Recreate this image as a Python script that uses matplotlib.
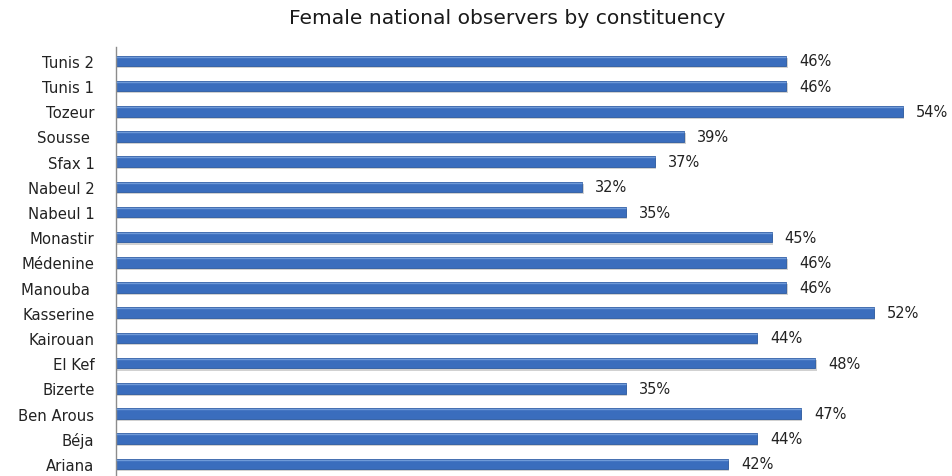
import matplotlib
matplotlib.use("Agg")
import matplotlib.pyplot as plt
import matplotlib.transforms as mtransforms

# Constituencies listed bottom to top
constituencies = ["Ariana", "Béja", "Ben Arous", "Bizerte", "El Kef", "Kairouan",
                  "Kasserine", "Manouba ", "Médenine", "Monastir", "Nabeul 1",
                  "Nabeul 2", "Sfax 1", "Sousse ", "Tozeur", "Tunis 1", "Tunis 2"]
female_share = [42, 44, 47, 35, 48, 44, 52, 46, 46, 45, 35, 32, 37, 39, 54, 46, 46]

fig = plt.figure(figsize=(9.53, 4.77), dpi=100)
ax = fig.add_axes([116 / 953, 0.0, 1 - 116 / 953, 1 - 48 / 477])

pos = list(range(len(constituencies)))
bar_h = 0.42

# soft drop shadow under each bar
shadow = mtransforms.offset_copy(ax.transData, fig=fig, x=1.0, y=-1.5, units="points")
ax.barh(pos, female_share, height=bar_h, color="#9a9a9a", alpha=0.45,
        transform=shadow, zorder=1)
ax.barh(pos, female_share, height=bar_h, color="#3a6dbd", edgecolor="#2c5aa0",
        linewidth=0.6, zorder=2)
# light highlight along the top of each bar
for p, v in zip(pos, female_share):
    ax.plot([0, v], [p + bar_h / 2 - 0.04] * 2, color="#6f9ad8", lw=1.0,
            solid_capstyle="butt", zorder=3)

for p, v in zip(pos, female_share):
    ax.text(v + 0.9, p, f"{v}%", va="center", ha="left", fontsize=10.5,
            color="#222222", family="DejaVu Sans", clip_on=False)

ax.set_xlim(0, (953 - 116) / 14.57)
ax.set_ylim(-0.48, 16.55)
ax.set_yticks(pos)
ax.set_yticklabels(constituencies, fontsize=10.7, family="DejaVu Sans", color="#222222")
ax.tick_params(axis="y", length=0, pad=15.5)
ax.set_xticks([])
for side in ("top", "right", "bottom"):
    ax.spines[side].set_visible(False)
ax.spines["left"].set_color("#8c8c8c")
ax.spines["left"].set_linewidth(1.0)

fig.text(507 / 953, 1 - 18 / 477, "Female national observers by constituency",
         ha="center", va="center", fontsize=14.6, family="DejaVu Sans", color="#1a1a1a")

fig.savefig("out.png", dpi=100, facecolor="white")
